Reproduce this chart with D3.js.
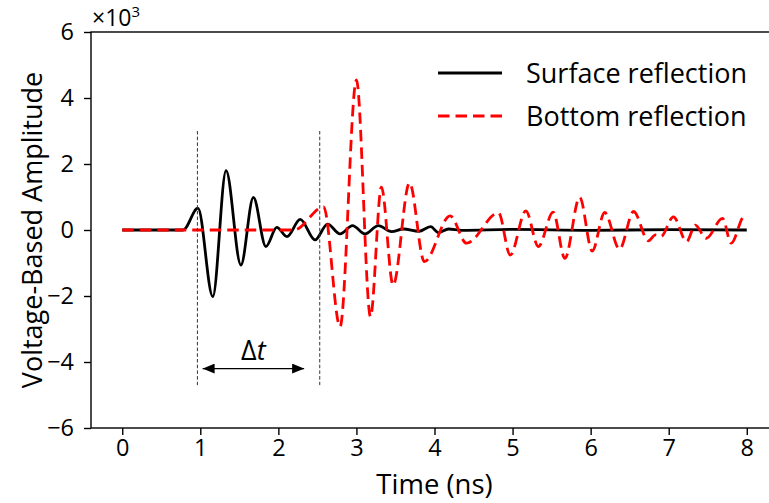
<!DOCTYPE html>
<html>
<head>
<meta charset="utf-8">
<script src="https://cdn.jsdelivr.net/npm/d3@7"></script>
<style>
  html, body { margin: 0; padding: 0; background: #fff; }
  svg { display: block; }
  text { font-family: "Open Sans", "Noto Sans", sans-serif; fill: #000; }
</style>
</head>
<body>
<svg id="chart" width="769" height="503"></svg>
<script>
// Surface reflection: turning points of the trace (time in ns, raw amplitude)
const surfaceTime = [0, 0.78, 0.97, 1.16, 1.33, 1.52, 1.68, 1.84, 1.98, 2.11, 2.28, 2.47, 2.63, 2.79, 2.95, 3.11, 3.28, 3.45, 3.6, 3.8, 3.95, 4.05, 4.18, 4.35, 5.0, 6.0, 7.0, 8.0];
const surfaceAmp  = [0, 0, 660, -2020, 1800, -1060, 990, -500, 80, -200, 320, -300, 180, -120, 130, -120, 130, -50, 30, -40, 100, -80, 30, -10, 20, -10, 10, 0];

// Bottom reflection: turning points of the trace
const bottomTime = [0, 2.2, 2.58, 2.79, 3.0, 3.18, 3.32, 3.47, 3.68, 3.87, 4.2, 4.41, 4.82, 4.97, 5.17, 5.33, 5.52, 5.67, 5.86, 6.02, 6.18, 6.37, 6.55, 6.74, 6.83, 6.9, 7.06, 7.23, 7.34, 7.48, 7.69, 7.8, 7.97, 8.0];
const bottomAmp  = [0, 0, 700, -2930, 4550, -2630, 1300, -1670, 1430, -960, 430, -400, 520, -760, 580, -500, 540, -860, 990, -640, 530, -580, 560, -330, -150, -200, 400, -350, 150, -250, 350, -400, 420, 400];

// Time-of-flight markers and axis ticks
const markerTimes = [0.963, 2.53];
const markerSpan = [3000, -4700];
const arrowTimes = [1.03, 2.33];
const arrowAmp = -4200;
const xTicks = [0, 1, 2, 3, 4, 5, 6, 7, 8];
const yTicks = [-6000, -4000, -2000, 0, 2000, 4000, 6000];
const seriesNames = ["Surface reflection", "Bottom reflection"];

const svg = d3.select("#chart");
const plotLeft = 91, plotRight = 778, plotTop = 32, plotBottom = 428;

const x = d3.scaleLinear().domain([-0.4, 8.4]).range([plotLeft, plotRight]);
const y = d3.scaleLinear().domain([-6000, 6000]).range([plotBottom, plotTop]);

// Frame
svg.append("rect")
  .attr("x", plotLeft).attr("y", plotTop)
  .attr("width", plotRight - plotLeft).attr("height", plotBottom - plotTop)
  .attr("fill", "none").attr("stroke", "#000").attr("stroke-width", 1.4);

// Axes
const xAxis = svg.append("g")
  .attr("transform", `translate(0,${plotBottom})`)
  .call(d3.axisBottom(x).tickValues(xTicks).tickSize(7).tickPadding(4).tickFormat(d3.format("d")));
const yAxis = svg.append("g")
  .attr("transform", `translate(${plotLeft},0)`)
  .call(d3.axisLeft(y).tickValues(yTicks).tickSize(7).tickPadding(10)
    .tickFormat(d => d3.format("d")(d / 1000).replace("-", "\u2212")));
[xAxis, yAxis].forEach(g => {
  g.select(".domain").remove();
  g.selectAll(".tick line").attr("stroke", "#000").attr("stroke-width", 1.4);
  g.selectAll(".tick text").attr("font-size", 23.5).attr("font-family", null);
});

// Offset label
const off = svg.append("text").attr("x", 92).attr("y", 26).attr("font-size", 23);
off.append("tspan").text("\u00d710");
off.append("tspan").attr("font-size", 15).attr("dy", -9).text("3");

// Axis titles
svg.append("text")
  .attr("x", (x(0) + x(8)) / 2).attr("y", 494)
  .attr("text-anchor", "middle").attr("font-size", 27.5)
  .text("Time (ns)");
svg.append("text")
  .attr("transform", `translate(42,${(plotTop + plotBottom) / 2}) rotate(-90)`)
  .attr("text-anchor", "middle").attr("font-size", 27)
  .text("Voltage-Based Amplitude");

// Traces
const line = d3.line().curve(d3.curveMonotoneX).x(d => x(d[0])).y(d => y(d[1]));
svg.append("path")
  .datum(d3.zip(surfaceTime, surfaceAmp))
  .attr("d", line)
  .attr("fill", "none").attr("stroke", "#000").attr("stroke-width", 2.8)
  .attr("stroke-linejoin", "round");
svg.append("path")
  .datum(d3.zip(bottomTime, bottomAmp))
  .attr("d", line)
  .attr("fill", "none").attr("stroke", "#ff0000").attr("stroke-width", 2.8)
  .attr("stroke-dasharray", "11.5,6");

// Vertical markers
svg.selectAll("line.marker").data(markerTimes).join("line")
  .attr("class", "marker")
  .attr("x1", d => x(d)).attr("x2", d => x(d))
  .attr("y1", y(markerSpan[0])).attr("y2", y(markerSpan[1]))
  .attr("stroke", "#333").attr("stroke-width", 1).attr("stroke-dasharray", "3.5,2.2");

// Double arrow
const defs = svg.append("defs");
defs.append("marker").attr("id", "head").attr("viewBox", "0 0 12 10")
  .attr("refX", 12).attr("refY", 5).attr("markerWidth", 12).attr("markerHeight", 10)
  .attr("markerUnits", "userSpaceOnUse").attr("orient", "auto-start-reverse")
  .append("path").attr("d", "M0,0 L12,5 L0,10 Z").attr("fill", "#000");
svg.append("line")
  .attr("x1", x(arrowTimes[0])).attr("x2", x(arrowTimes[1]))
  .attr("y1", y(arrowAmp)).attr("y2", y(arrowAmp))
  .attr("stroke", "#000").attr("stroke-width", 1.3)
  .attr("marker-start", "url(#head)").attr("marker-end", "url(#head)");
const dt = svg.append("text")
  .attr("x", (x(arrowTimes[0]) + x(arrowTimes[1])) / 2).attr("y", y(arrowAmp) - 9)
  .attr("text-anchor", "middle").attr("font-size", 27)
  .attr("font-family", "'DejaVu Serif'");
dt.append("tspan").text("\u0394");
dt.append("tspan").attr("font-style", "italic").text("t");

// Legend
const legend = svg.append("g");
seriesNames.forEach((name, i) => {
  const ly = 73 + i * 43;
  legend.append("line")
    .attr("x1", 438).attr("x2", 502).attr("y1", ly).attr("y2", ly)
    .attr("stroke", i === 0 ? "#000" : "#ff0000").attr("stroke-width", 2.8)
    .attr("stroke-dasharray", i === 0 ? null : "11.5,6");
  legend.append("text")
    .attr("x", 526).attr("y", ly + 9.5).attr("font-size", 27)
    .text(name);
});
</script>
</body>
</html>
